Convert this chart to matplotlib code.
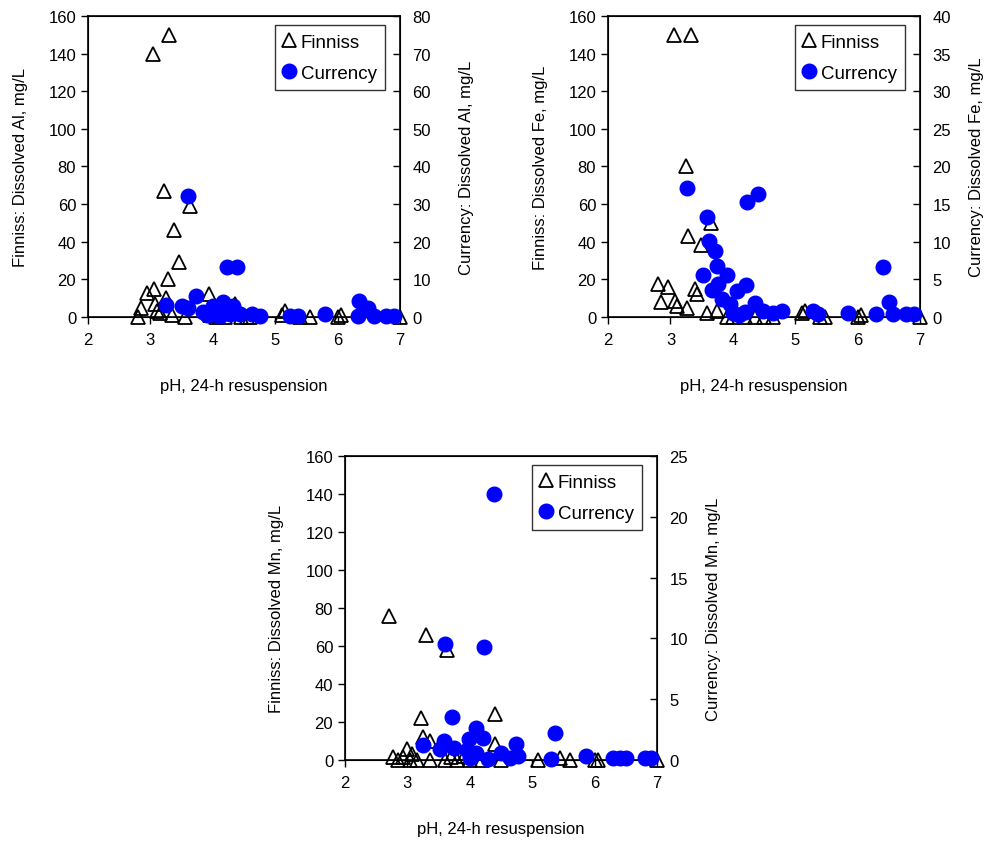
import matplotlib
matplotlib.use("Agg")
import matplotlib.pyplot as plt
from matplotlib.lines import Line2D

plt.rcParams["font.family"] = ["Liberation Sans", "DejaVu Sans"]

# Al
al_fin_ph = [3.04, 3.30, 3.22, 3.64, 3.37, 3.46, 3.28, 2.94, 3.06, 3.94, 2.85, 2.80, 3.08, 3.25, 3.10,
             3.35, 3.56, 4.36, 4.30, 3.95, 4.05, 4.20, 4.45, 4.55, 5.11, 5.16, 5.40, 5.56, 6.00, 6.05,
             7.00, 3.15, 4.60]
al_fin = [140, 150, 67, 59, 46, 29, 20, 13, 15, 12, 5, 0, 7, 10, 3,
          1, 0, 7, 3, 1, 0, 0, 0, 0, 1, 3, 0, 0, 0, 1,
          0, 2, 0]
al_cur_ph = [3.61, 4.23, 4.39, 3.25, 3.73, 3.51, 4.17, 4.00, 4.33, 3.85, 4.00, 4.12, 4.28, 4.44,
             4.63, 4.76, 5.24, 5.37, 5.80, 6.35, 6.48, 6.32, 6.58, 6.77, 6.90, 3.60, 3.90, 4.05]
al_cur = [32.2, 13.3, 13.3, 3.2, 5.6, 2.9, 4.0, 2.9, 3.0, 1.3, 0.8, 0.3, 0.8, 0.8,
          0.8, 0.3, 0.3, 0.3, 0.8, 4.3, 2.4, 0.3, 0.3, 0.3, 0.3, 2.5, 0.5, 1.5]

# Fe
fe_fin_ph = [3.06, 3.33, 3.25, 3.28, 3.49, 3.65, 2.80, 2.96, 2.85, 3.07, 3.10, 3.40, 3.42, 3.26,
             3.58, 3.75, 3.90, 4.00, 4.20, 4.35, 4.50, 4.65, 5.11, 5.16, 5.40, 5.48, 6.00, 6.05, 7.00]
fe_fin = [150, 150, 80, 43, 38, 50, 17.5, 16, 8, 8.5, 6, 15, 12, 5,
          2, 3, 0, 0, 0, 0, 0, 0, 2, 3, 0, 0, 0, 1, 0]
fe_cur_ph = [3.27, 3.59, 4.23, 4.41, 3.62, 3.72, 3.75, 3.52, 3.91, 3.67, 3.77, 4.21, 4.07, 3.83,
             3.96, 4.36, 4.00, 4.10, 4.20, 4.49, 4.65, 4.79, 5.29, 5.37, 5.84, 6.40, 6.51, 6.30,
             6.57, 6.78, 6.90]
fe_cur = [17.1, 13.3, 15.3, 16.3, 10.1, 8.8, 6.8, 5.6, 5.6, 3.6, 4.4, 4.3, 3.5, 2.4,
          1.7, 1.9, 0.5, 0.3, 0.6, 0.8, 0.5, 0.8, 0.8, 0.4, 0.5, 6.6, 2.0, 0.4,
          0.4, 0.4, 0.4]

# Mn
mn_fin_ph = [2.71, 3.30, 3.64, 3.22, 4.41, 3.25, 3.36, 4.41, 2.77, 3.00, 3.08, 2.93, 2.85, 3.05,
             3.36, 3.60, 3.80, 3.90, 4.00, 4.20, 4.50, 5.10, 5.45, 5.60, 6.00, 6.05, 7.00, 3.70, 3.15]
mn_fin = [76, 66, 58, 22, 24, 12, 10, 8.4, 1.6, 5.8, 3, 1.5, 0, 0,
          0, 0, 0, 2, 0, 0, 0, 0, 1, 0, 0, 0, 0, 1.5, 0]
mn_cur_ph = [4.39, 3.61, 4.23, 3.72, 5.37, 3.25, 3.58, 4.10, 3.99, 4.21, 4.74, 3.52, 3.74, 3.95,
             4.10, 4.00, 4.30, 4.50, 4.65, 4.78, 5.30, 5.86, 6.30, 6.40, 6.50, 6.80, 6.90]
mn_cur = [21.9, 9.5, 9.3, 3.5, 2.2, 1.2, 1.6, 2.6, 1.7, 1.8, 1.3, 0.9, 1.0, 0.8,
          0.6, 0.2, 0.1, 0.6, 0.2, 0.3, 0.1, 0.3, 0.2, 0.2, 0.2, 0.2, 0.2]

FS = 12


def draw_panel(fig, rect, metal, fin_ph, fin, cur_ph, cur, right_max, right_step, rpad):
    ax = fig.add_axes(rect)
    ax.plot(fin_ph, fin, "^", ms=10.5, mfc="none", mec="black", mew=1.3, clip_on=False, zorder=3)
    ax.set_xlim(2, 7)
    ax.set_ylim(0, 160)
    ax.set_xticks(range(2, 8))
    ax.set_yticks(range(0, 161, 20))
    ax.tick_params(axis="both", direction="out", length=5, width=1, labelsize=FS)
    ax.tick_params(axis="x", pad=6)
    ax.set_xlabel("pH, 24-h resuspension", fontsize=FS, labelpad=22)
    ax.set_ylabel("Finniss: Dissolved " + metal + ", mg/L", fontsize=FS, labelpad=15)
    for s in ax.spines.values():
        s.set_linewidth(1.2)

    ax2 = ax.twinx()
    ax2.plot(cur_ph, cur, "o", ms=10.5, color="#0000ff", mec="#0000ff", clip_on=False, zorder=4)
    ax2.set_ylim(0, right_max)
    ax2.set_yticks(range(0, right_max + 1, right_step))
    ax2.tick_params(axis="y", direction="in", length=5, width=1, labelsize=FS, pad=9)
    ax2.set_ylabel("Currency: Dissolved " + metal + ", mg/L", fontsize=FS, labelpad=rpad)

    handles = [Line2D([], [], ls="none", marker="^", ms=10, mfc="none", mec="black", mew=1.3),
               Line2D([], [], ls="none", marker="o", ms=10.5, color="#0000ff")]
    leg = ax2.legend(handles, ["Finniss", "Currency"], loc="upper right",
                     bbox_to_anchor=(0.952, 0.97), fontsize=13.5, frameon=True, fancybox=False,
                     handlelength=0.6, handletextpad=0.3, borderpad=0.45, labelspacing=0.75,
                     borderaxespad=0)
    leg.get_frame().set_edgecolor("black")
    leg.get_frame().set_linewidth(1)
    return ax, ax2


fig = plt.figure(figsize=(9.89, 8.45), dpi=100)
draw_panel(fig, [0.089, 0.6237, 0.3155, 0.3562], "Al", al_fin_ph, al_fin, al_cur_ph, al_cur, 80, 10, 20)
draw_panel(fig, [0.6148, 0.6237, 0.3155, 0.3562], "Fe", fe_fin_ph, fe_fin, fe_cur_ph, fe_cur, 40, 5, 13)
draw_panel(fig, [0.3488, 0.0994, 0.3155, 0.3598], "Mn", mn_fin_ph, mn_fin, mn_cur_ph, mn_cur, 25, 5, 13)

plt.savefig("out.png", dpi=100)
plt.close()
